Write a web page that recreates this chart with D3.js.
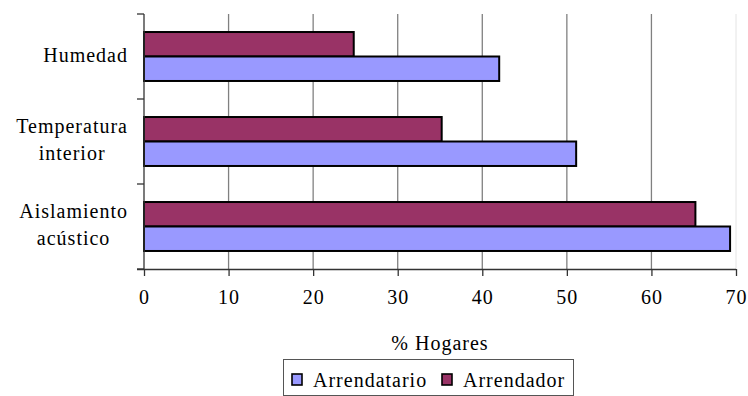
<!DOCTYPE html>
<html>
<head>
<meta charset="utf-8">
<script src="https://cdn.jsdelivr.net/npm/d3@7"></script>
<style>
  html, body { margin: 0; padding: 0; background: #fff; }
  svg { display: block; }
</style>
</head>
<body>
<svg id="chart" width="748" height="396"></svg>
<script>
// Categories, top to bottom, with their label lines
const categories = ["Humedad", "Temperatura interior", "Aislamiento acústico"];
const categoryLines = [["Humedad"], ["Temperatura", "interior"], ["Aislamiento", "acústico"]];
// Series (% of households)
const seriesNames = ["Arrendador", "Arrendatario"];
const arrendador = [24.8, 35.2, 65.2];
const arrendatario = [42.0, 51.1, 69.3];
const xTicks = [0, 10, 20, 30, 40, 50, 60, 70];
const legendOrder = ["Arrendatario", "Arrendador"];
const colors = { "Arrendador": "#993366", "Arrendatario": "#9999FF" };

const FONT = '"Liberation Serif", "Times New Roman", serif';
const svg = d3.select("#chart");
const plotLeft = 144, plotRight = 736, plotTop = 14, plotBottom = 269;

const x = d3.scaleLinear().domain([0, 70]).range([plotLeft, plotRight]);
const y = d3.scaleBand().domain(categories).range([plotTop, plotBottom])
  .paddingInner(0.424).paddingOuter(0.212);
const ySub = d3.scaleBand().domain(seriesNames).range([0, y.bandwidth()]);

function label(sel, size, spacing) {
  return sel.style("font-family", FONT).style("font-size", size + "px")
    .attr("letter-spacing", spacing + "px").attr("fill", "#000");
}

// Vertical gridlines
svg.append("g").selectAll("line").data(xTicks.slice(1, -1)).join("line")
  .attr("x1", d => x(d)).attr("x2", d => x(d))
  .attr("y1", plotTop).attr("y2", plotBottom)
  .attr("stroke", "#808080").attr("stroke-width", 1.3);
// Faint right edge of plot
svg.append("line").attr("x1", x(70)).attr("x2", x(70)).attr("y1", plotTop).attr("y2", plotBottom)
  .attr("stroke", "#e4e4e4").attr("stroke-width", 1);

// Bars
const rows = categories.map((c, i) => ({ c, values: [
  { s: "Arrendador", v: arrendador[i] },
  { s: "Arrendatario", v: arrendatario[i] }
]}));
svg.append("g").selectAll("g").data(rows).join("g")
  .attr("transform", d => `translate(0,${y(d.c)})`)
  .selectAll("rect").data(d => d.values).join("rect")
  .attr("x", x(0)).attr("y", d => ySub(d.s))
  .attr("width", d => x(d.v) - x(0)).attr("height", ySub.bandwidth())
  .attr("fill", d => colors[d.s]).attr("stroke", "#000").attr("stroke-width", 2);

// X axis
const xAxis = d3.axisBottom(x).tickValues(xTicks).tickSize(7).tickPadding(14).tickSizeOuter(0);
const gx = svg.append("g").attr("transform", `translate(0,${plotBottom})`).call(xAxis);
gx.attr("font-family", null).attr("font-size", null);
gx.select(".domain").attr("stroke", "#333").attr("stroke-width", 1.3)
  .attr("d", `M${plotLeft - 7},0.5H${plotRight}`);
gx.selectAll(".tick line").attr("stroke", "#333").attr("stroke-width", 1.3);
label(gx.selectAll(".tick text"), 20, 1).attr("dy", "0.71em");

// Y axis with ticks between categories
const yEdges = [plotTop, plotTop + y.step(), plotTop + 2 * y.step(), plotBottom];
svg.append("line").attr("x1", plotLeft).attr("x2", plotLeft).attr("y1", plotTop).attr("y2", plotBottom)
  .attr("stroke", "#333").attr("stroke-width", 1.3);
svg.append("g").selectAll("line").data(yEdges).join("line")
  .attr("x1", plotLeft - 7).attr("x2", plotLeft).attr("y1", d => d).attr("y2", d => d)
  .attr("stroke", "#333").attr("stroke-width", 1.3);

// Category labels: lines centred on each other, block right-aligned
const labelRight = 128, lineGap = 27;
const lg = svg.append("g");
categoryLines.forEach((lines, i) => {
  const cy = y(categories[i]) + y.bandwidth() / 2;
  const t = label(lg.append("text"), 20, 1);
  const first = cy + 5 - (lines.length - 1) * lineGap / 2;
  lines.forEach((ln, j) => {
    t.append("tspan").attr("y", first + j * lineGap).text(ln);
  });
  const maxW = d3.max(t.selectAll("tspan").nodes(), n => n.getComputedTextLength());
  t.attr("text-anchor", "middle").selectAll("tspan").attr("x", labelRight - maxW / 2);
});

// Axis title
label(svg.append("text"), 20, 1).attr("x", 440).attr("y", 350).attr("text-anchor", "middle")
  .text("% Hogares");

// Legend
const lgd = svg.append("g");
lgd.append("rect").attr("x", 283.5).attr("y", 359.5).attr("width", 290).attr("height", 36)
  .attr("fill", "#fff").attr("stroke", "#555").attr("stroke-width", 1);
const legendX = [292, 442];
legendOrder.forEach((name, i) => {
  lgd.append("rect").attr("x", legendX[i]).attr("y", 374).attr("width", 10).attr("height", 11)
    .attr("fill", colors[name]).attr("stroke", "#000").attr("stroke-width", 1.6);
  label(lgd.append("text"), 20, 1).attr("x", legendX[i] + 21).attr("y", 387).text(name);
});
</script>
</body>
</html>
